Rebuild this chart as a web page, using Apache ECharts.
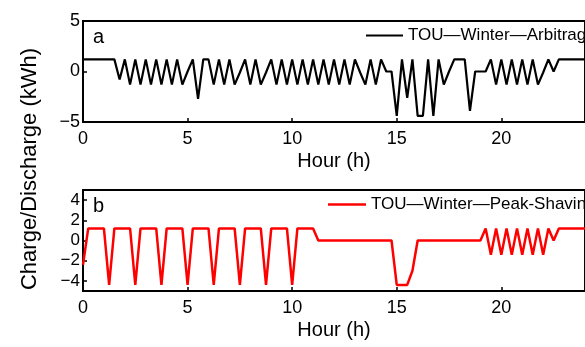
<!DOCTYPE html>
<html>
<head>
<meta charset="utf-8">
<script src="https://cdn.jsdelivr.net/npm/echarts@6/dist/echarts.min.js"></script>
<style>
html,body{margin:0;padding:0;background:#fff;}
#c{width:585px;height:347px;}
</style>
</head>
<body>
<div id="c"></div>
<script>
// 15-minute steps from 0 h to 24 h
var stepHours = 0.25;
var seriesNames = ['TOU\u2014Winter\u2014Arbitrage', 'TOU\u2014Winter\u2014Peak-Shaving'];
var xTicks = [0, 5, 10, 15, 20];
var topYTicks = [-5, 0, 5];
var bottomYTicks = [-4, -2, 0, 2, 4];

var arbitrage = [
  1.2, 1.2, 1.2, 1.2, 1.2, 1.2, 1.2, -0.8,
  1.2, -1.3, 1.2, -1.3, 1.2, -1.3, 1.2, -1.3,
  1.2, -1.3, 1.2, -1.3, 0.0, 1.2, -2.7, 1.2,
  1.2, -1.3, 1.2, -1.3, 1.2, -1.3, -0.1, 1.2,
  -1.3, 1.2, -1.3, -0.1, 1.2, -1.3, 1.2, -1.3,
  1.2, -1.3, 1.2, -1.3, 1.2, -1.3, 1.2, -1.3,
  1.2, -1.3, 1.2, -1.3, 1.2, -0.1, -1.3, 1.2,
  -1.3, 1.2, 0.0, 0.0, -4.4, 1.2, -2.6, 1.2,
  -4.4, -4.4, 1.2, -4.4, 1.2, -1.3, 0.0, 1.2,
  1.2, 1.2, -3.9, 0.0, 0.0, 0.0, 1.2, -1.3,
  1.2, -1.3, 1.2, -1.3, 1.2, -1.3, 1.2, -1.3,
  -0.1, 1.2, 0.0, 1.2, 1.2, 1.2, 1.2, 1.2,
  1.2
];

var peakShaving = [
  -2.4, 1.2, 1.2, 1.2, 1.2, -4.4, 1.2, 1.2,
  1.2, 1.2, -4.4, 1.2, 1.2, 1.2, 1.2, -4.4,
  1.2, 1.2, 1.2, 1.2, -4.4, 1.2, 1.2, 1.2,
  1.2, -4.4, 1.2, 1.2, 1.2, 1.2, -4.4, 1.2,
  1.2, 1.2, 1.2, -4.4, 1.2, 1.2, 1.2, 1.2,
  -4.4, 1.2, 1.2, 1.2, 1.2, 0.0, 0.0, 0.0,
  0.0, 0.0, 0.0, 0.0, 0.0, 0.0, 0.0, 0.0,
  0.0, 0.0, 0.0, 0.0, -4.4, -4.4, -4.4, -3.0,
  0.0, 0.0, 0.0, 0.0, 0.0, 0.0, 0.0, 0.0,
  0.0, 0.0, 0.0, 0.0, 0.0, 1.2, -1.4, 1.2,
  -1.4, 1.2, -1.4, 1.2, -1.4, 1.2, -1.4, 1.2,
  -1.4, 1.2, 0.0, 1.2, 1.2, 1.2, 1.2, 1.2,
  1.2
];

function toPairs(vals) {
  return vals.map(function (v, i) { return [i * stepHours, v]; });
}
var FONT = "'Liberation Sans', Arial, sans-serif";
function minusFmt(v) { return String(v).replace('-', '\u2212'); }

function xAxis(gi) {
  return {
    type: 'value', gridIndex: gi, min: 0, max: 24, interval: 5,
    name: 'Hour (h)', nameLocation: 'middle', nameGap: 29,
    nameTextStyle: { fontFamily: FONT, fontSize: 20, color: '#000' },
    axisLine: { show: true, onZero: false, lineStyle: { color: '#000', width: 2 } },
    axisTick: { show: true, inside: true, length: 4, lineStyle: { color: '#000', width: 1.5 }, customValues: xTicks },
    axisLabel: { fontFamily: FONT, fontSize: 18, color: '#000', margin: 8, customValues: xTicks },
    splitLine: { show: false }
  };
}
function yAxis(gi, ticks, fs) {
  return {
    type: 'value', gridIndex: gi, min: -5, max: 5,
    axisLine: { show: true, onZero: false, lineStyle: { color: '#000', width: 2 } },
    axisTick: { show: true, inside: true, length: 4, lineStyle: { color: '#000', width: 1.5 }, customValues: ticks },
    axisLabel: { fontFamily: FONT, fontSize: fs, color: '#000', margin: 3, formatter: minusFmt, customValues: ticks },
    splitLine: { show: false }
  };
}

var chart = echarts.init(document.getElementById('c'), null, { renderer: 'canvas' });
chart.setOption({
  animation: false,
  backgroundColor: '#fff',
  grid: [
    { left: 83, top: 21, width: 514, height: 101, show: true, borderColor: '#000', borderWidth: 2, backgroundColor: 'transparent' },
    { left: 83, top: 190, width: 514, height: 101, show: true, borderColor: '#000', borderWidth: 2, backgroundColor: 'transparent' }
  ],
  xAxis: [xAxis(0), xAxis(1)],
  yAxis: [yAxis(0, topYTicks, 18), yAxis(1, bottomYTicks, 17)],
  legend: [
    { data: [seriesNames[0]], left: 366, top: 27, padding: 0, icon: 'rect', itemWidth: 37, itemHeight: 2,
      textStyle: { fontFamily: FONT, fontSize: 17, color: '#000' } },
    { data: [seriesNames[1]], left: 328, top: 196, padding: 0, icon: 'rect', itemWidth: 38, itemHeight: 2.5,
      textStyle: { fontFamily: FONT, fontSize: 17, color: '#000' } }
  ],
  graphic: [
    { type: 'text', left: 93, top: 27, style: { text: 'a', font: '20px ' + FONT, fill: '#000' } },
    { type: 'text', left: 93, top: 196, style: { text: 'b', font: '20px ' + FONT, fill: '#000' } },
    { type: 'text', x: 30, y: 169, rotation: Math.PI / 2,
      style: { text: 'Charge/Discharge (kWh)', font: '22px ' + FONT, fill: '#000', align: 'center', verticalAlign: 'middle' } }
  ],
  series: [
    { name: seriesNames[0], type: 'line', xAxisIndex: 0, yAxisIndex: 0, data: toPairs(arbitrage),
      showSymbol: false, symbol: 'none', lineStyle: { color: '#000', width: 2.2 }, itemStyle: { color: '#000' } },
    { name: seriesNames[1], type: 'line', xAxisIndex: 1, yAxisIndex: 1, data: toPairs(peakShaving),
      showSymbol: false, symbol: 'none', lineStyle: { color: '#ff0000', width: 2.5 }, itemStyle: { color: '#ff0000' } }
  ]
});
</script>
</body>
</html>
